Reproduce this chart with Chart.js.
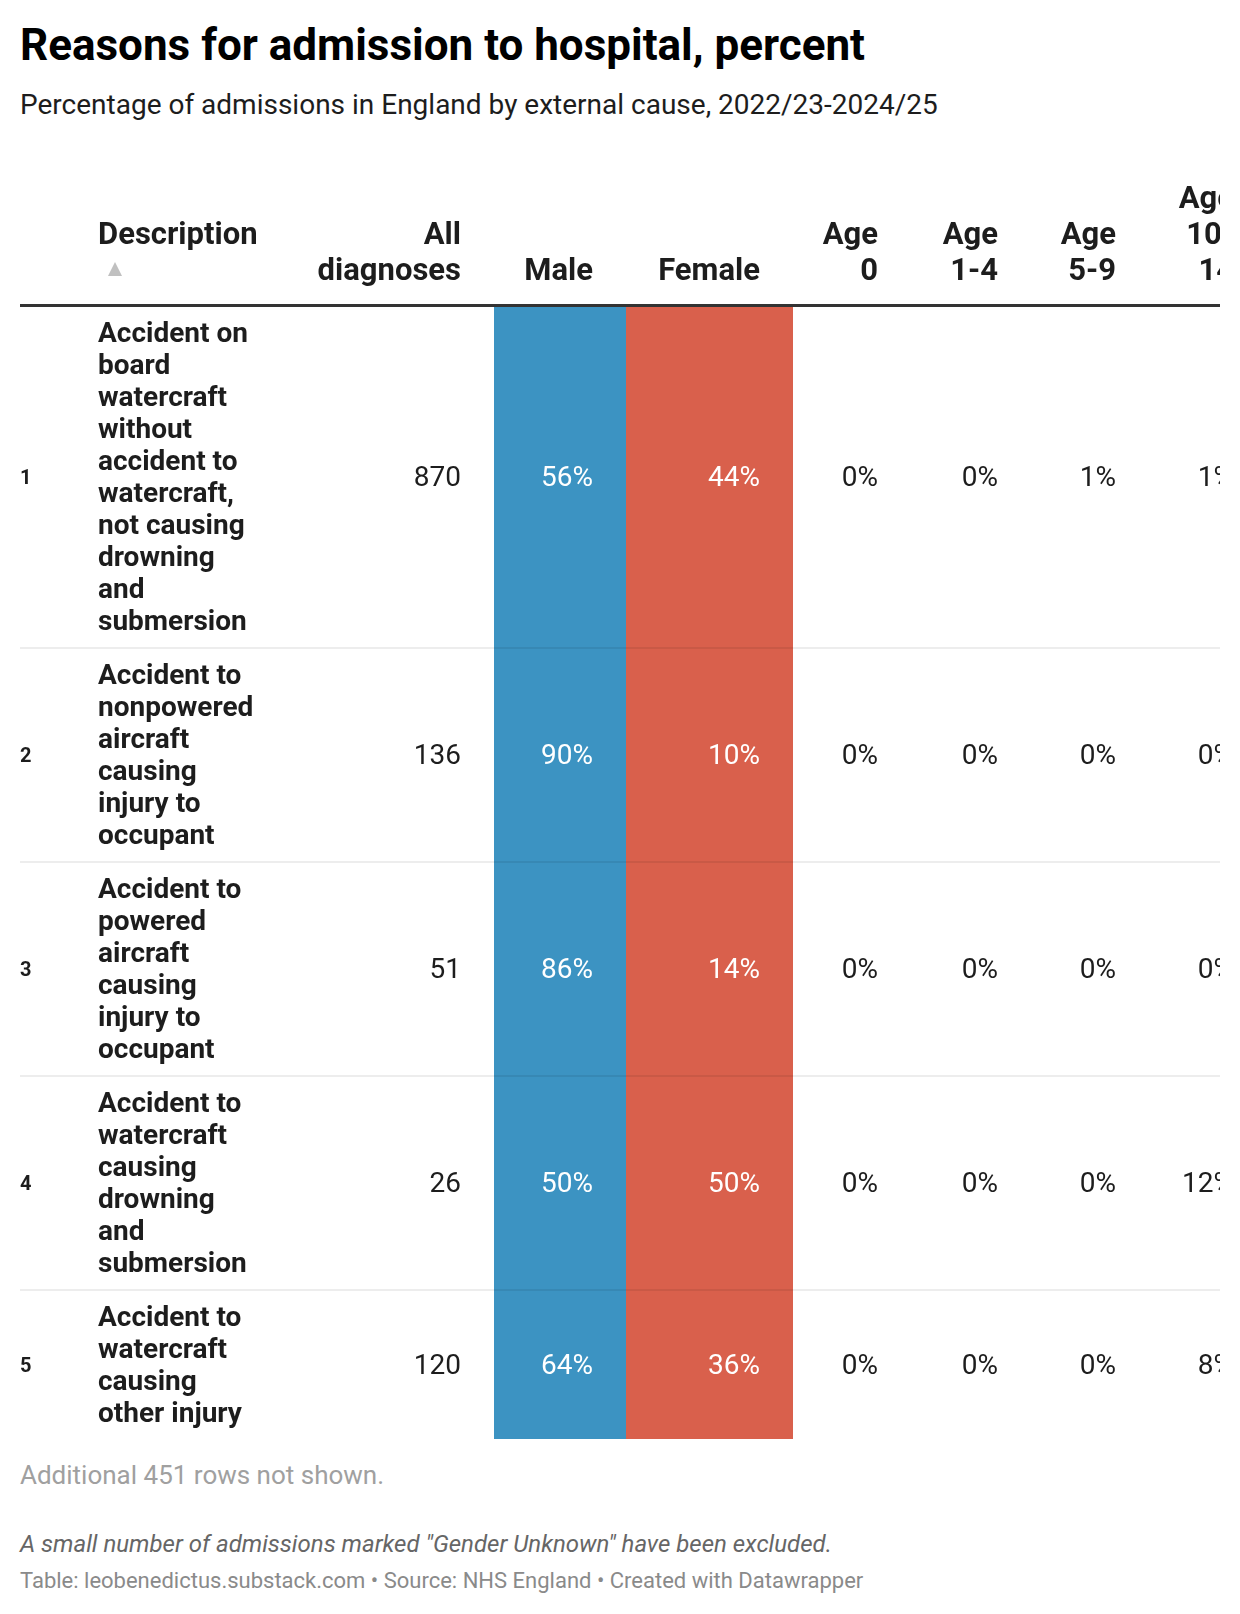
<!DOCTYPE html>
<html>
<head>
<meta charset="utf-8">
<script src="https://cdn.jsdelivr.net/npm/chart.js@4.4.1/dist/chart.umd.min.js"></script>
<style>
  body { margin: 0; background: #fff; font-family: Roboto, "Noto Sans", sans-serif; color: #1d1d1d; }
  #page { position: absolute; left: 20px; top: 0; width: 1200px; }
  h1 { font-size: 44px; line-height: 52px; font-weight: 700; margin: 19px 0 0; color: #000; }
  .sub { font-size: 28px; line-height: 34px; margin: 17px 0 0; color: #1d1d1d; }
  #clip { position: relative; width: 1200px; overflow: hidden; margin-top: 58px; }
  #bars { position: absolute; left: 0; top: 0; width: 100%; height: 100%; z-index: 0; }
  #bars div { position: absolute; }
  table { position: relative; z-index: 1; border-collapse: collapse; table-layout: fixed; width: 1247px; background: transparent; }
  th { font-size: 31px; line-height: 36px; font-weight: 700; text-align: right; vertical-align: bottom;
       padding: 0 33px 16px 0; border-bottom: 3px solid #333; }
  th.desc { text-align: left; padding-right: 0; }
  th .arrow { height: 36px; position: relative; }
  th .arrow::before { content: ''; position: absolute; left: 10px; top: 10px; width: 0; height: 0;
       border-left: 7.5px solid transparent; border-right: 7.5px solid transparent; border-bottom: 14px solid #c0c0c0; }
  td { font-size: 28px; line-height: 32px; text-align: right; vertical-align: middle;
       padding: 10px 33px 10px 0; border-bottom: 2px solid rgba(0,0,0,0.07); }
  tr:last-child td { border-bottom: none; }
  td.num { text-align: left; font-size: 20px; font-weight: 700; padding-right: 0; }
  td.desc { text-align: left; font-weight: 700; padding-right: 20px; }
  td.light { color: #fff; }
  .more { font-size: 26px; line-height: 32px; color: #a0a0a0; margin: 20px 0 0; }
  .note { font-size: 24px; line-height: 30px; color: #666; font-style: italic; margin: 38px 0 0; }
  .source { font-size: 22px; line-height: 28px; color: #8a8a8a; margin: 8px 0 0; }
</style>
</head>
<body>
<div id="page">
  <h1>Reasons for admission to hospital, percent</h1>
  <div class="sub">Percentage of admissions in England by external cause, 2022/23-2024/25</div>
  <div id="clip">
    <div id="bars"></div>
    <table id="tbl"></table>
  </div>
  <div class="more">Additional 451 rows not shown.</div>
  <div class="note">A small number of admissions marked "Gender Unknown" have been excluded.</div>
  <div class="source">Table: leobenedictus.substack.com • Source: NHS England • Created with Datawrapper</div>
</div>

<script>
// table data
const rowNumbers = [1, 2, 3, 4, 5];
const descriptions = [
  'Accident on board watercraft without accident to watercraft, not causing drowning and submersion',
  'Accident to nonpowered aircraft causing injury to occupant',
  'Accident to powered aircraft causing injury to occupant',
  'Accident to watercraft causing drowning and submersion',
  'Accident to watercraft causing other injury'
];
const allDiagnoses = [870, 136, 51, 26, 120];
const maleShare = [56, 90, 86, 50, 64];
const femaleShare = [44, 10, 14, 50, 36];
const age0 = [0, 0, 0, 0, 0];
const age1to4 = [0, 0, 0, 0, 0];
const age5to9 = [1, 0, 0, 0, 0];
const age10to14 = [1, 0, 0, 12, 8];

// header labels, one entry per line
const headerLines = [
  [''], ['Description'], ['All', 'diagnoses'], ['Male'], ['Female'],
  ['Age', '0'], ['Age', '1-4'], ['Age', '5-9'], ['Age', '10-', '14']
];
const colWidths = [78, 182, 214, 132, 167, 118, 120, 118, 118];
const shadedColumns = ['Male', 'Female'];
const shadeColors = ['#3c93c2', '#d9604c'];

const pct = v => v + '%';

const tbl = document.getElementById('tbl');
const colgroup = document.createElement('colgroup');
colWidths.forEach(w => {
    const c = document.createElement('col');
    c.style.width = w + 'px';
    colgroup.appendChild(c);
});
tbl.appendChild(colgroup);

const thead = tbl.createTHead();
const hr = thead.insertRow();
headerLines.forEach((lines, i) => {
    const th = document.createElement('th');
    th.innerHTML = lines.join('<br>');
    if (i <= 1) th.className = 'desc';
    if (i === 1) th.innerHTML += '<div class="arrow"></div>'; // sort marker
    th.dataset.label = lines.join(' ');
    hr.appendChild(th);
});

const tbody = tbl.createTBody();
rowNumbers.forEach((n, r) => {
    const tr = tbody.insertRow();
    const cells = [
        [n, 'num'],
        [descriptions[r], 'desc'],
        [allDiagnoses[r], ''],
        [pct(maleShare[r]), 'light'],
        [pct(femaleShare[r]), 'light'],
        [pct(age0[r]), ''],
        [pct(age1to4[r]), ''],
        [pct(age5to9[r]), ''],
        [pct(age10to14[r]), '']
    ];
    cells.forEach(([txt, cls]) => {
        const td = tr.insertCell();
        td.textContent = txt;
        if (cls) td.className = cls;
    });
});

// colored Male / Female columns drawn with Chart.js behind the table body
function drawShading() {
    const bars = document.getElementById('bars');
    const ths = Array.from(hr.children);
    const top = tbody.offsetTop;
    const height = tbody.offsetHeight;
    shadedColumns.forEach((label, i) => {
        const th = ths.find(t => t.dataset.label === label);
        const box = document.createElement('div');
        box.style.left = th.offsetLeft + 'px';
        box.style.width = th.offsetWidth + 'px';
        box.style.top = top + 'px';
        box.style.height = height + 'px';
        const canvas = document.createElement('canvas');
        box.appendChild(canvas);
        bars.appendChild(box);
        new Chart(canvas.getContext('2d'), {
            type: 'bar',
            data: {
                labels: [label],
                datasets: [{
                    data: [rowNumbers.length],
                    backgroundColor: shadeColors[i],
                    borderWidth: 0,
                    barPercentage: 1,
                    categoryPercentage: 1
                }]
            },
            options: {
                responsive: true,
                maintainAspectRatio: false,
                animation: false,
                layout: { padding: 0 },
                plugins: {
                    legend: { display: false },
                    tooltip: { enabled: false }
                },
                scales: {
                    x: { display: false },
                    y: { display: false, min: 0, max: rowNumbers.length }
                }
            }
        });
    });
}

document.fonts.ready.then(drawShading);
</script>
</body>
</html>
